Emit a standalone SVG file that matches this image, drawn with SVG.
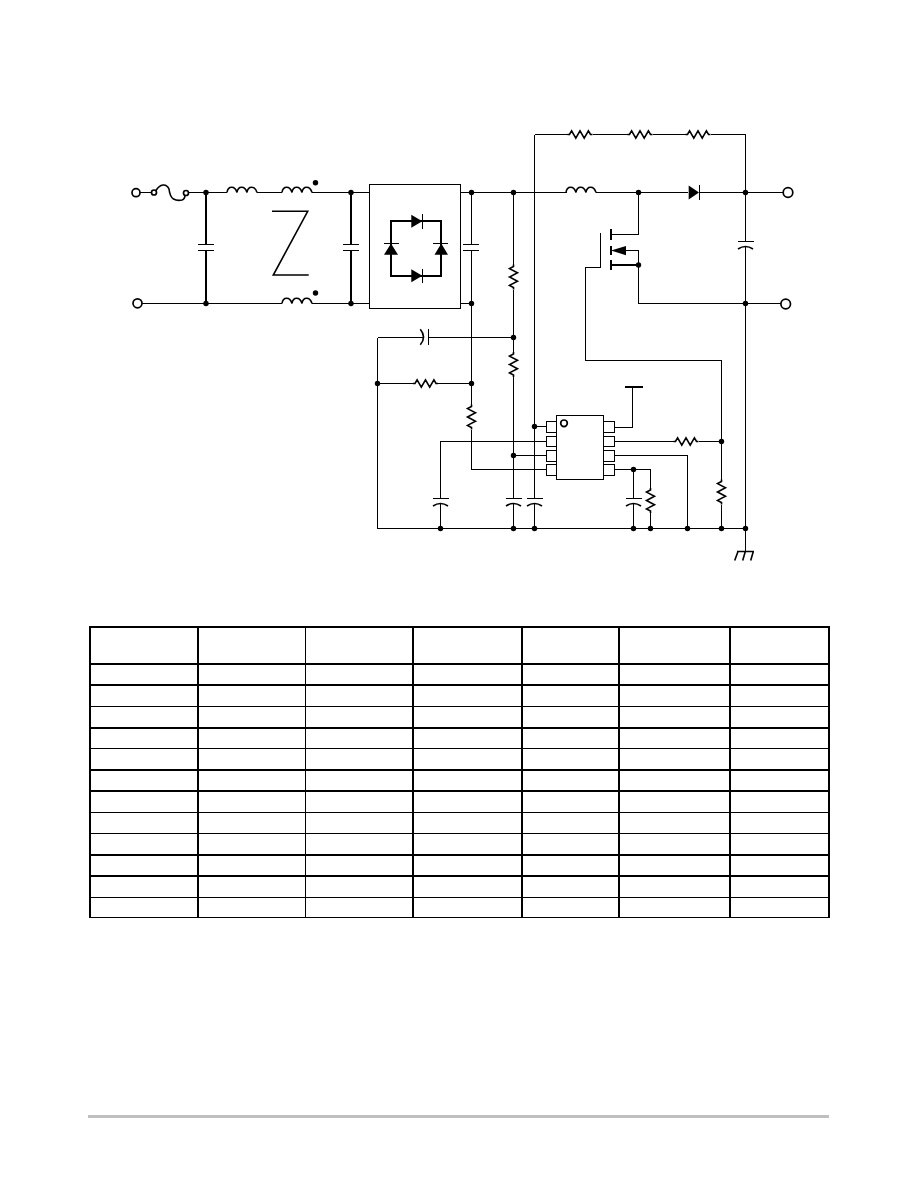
<svg xmlns="http://www.w3.org/2000/svg" width="918" height="1188" viewBox="0 0 918 1188">
<style>
.w{fill:none;stroke:#000;stroke-width:1;shape-rendering:crispEdges}
.b{fill:none;stroke:#000;stroke-width:2;shape-rendering:crispEdges}
.s{fill:none;stroke:#000;stroke-width:1.6}
.n{fill:#000}
.f{fill:#000;stroke:none}
.c{fill:#fff;stroke:#000;stroke-width:1.7}
.k{stroke:#000;stroke-width:2;shape-rendering:crispEdges}
.k1{stroke:#000;stroke-width:1;shape-rendering:crispEdges}
</style>
<defs>
<circle id="dot" r="2.7" class="n"/>
<path id="rh" class="s" d="M0 0h2l2.100 -3.600 4.200 7.200 4.200 -7.200 4.200 7.200 4.200 -7.200 2.100 3.600h2"/>
<path id="rv" class="s" d="M0 0v2l-4 2.100 8 4.200 -8 4.200 8 4.200 -8 4.200 4 2.100v2"/>
<path id="ind" class="s" d="M0 0c1 -7 8 -7 10 0c1 -7 8 -7 10 0c1 -7 8 -7 10 0"/>
<g id="pc"><path class="k1" d="M-8 0h16"/><path class="s" d="M-7.500 7.500q7.500 -5 15 0"/></g>
</defs>
<rect width="918" height="1188" fill="#fff"/>
<g id="connectors">
<path class="w" d="M140 192.500h11M189 192.500h38M257 192.500h25M312 192.500h57M461 192.500h106M596 192.500h92M700 192.500h83"/>
<path class="s" d="M156 190.500q3 -5 7 -5.500t6 4q1 8 4.500 10t8.500 1q3 -1 3 -5"/>
<path class="w" d="M142 303.500h140M312 303.500h57M461 303.500h10"/>
<path class="b" d="M206 192.500V244M206 250V303M351 192.500V244M351 250V303"/>
<path class="w" d="M471.500 192.500V244.500M471.500 250.500V404.500M471.500 430V469.500H546.500M513.500 192.500V264.500M513.500 290V352M513.500 377V498.500M513.500 504V528.500M534.500 134.500V498.500M534.500 504V528.500"/>
<path class="w" d="M534.500 134.500H567.500M592.500 134.500H627.500M652.500 134.500H685.500M710.500 134.500H745.500V241.500M745.500 246V551.500"/>
<path class="w" d="M638.500 192.500V234.500H611M638.500 250.500H626M638.500 250.500V303.500H781M745 192.500H783"/>
<path class="w" d="M600.500 233V267.500H585.500V360.500H721.500V479.500M721.500 505V528.500"/>
<path class="w" d="M377.500 337.500H424M428.500 337.500H513.500M377.500 337.500V528.500H745.500M377.500 383.500H413M438 383.500H471.500"/>
<path class="w" d="M534.500 426.500H546.500M440.500 498.500V441.500H546.500M440.500 504V528.500M513.500 455.500H546.500"/>
<path class="w" d="M614.500 427.500H632.500V387M614.500 441.500H673.500M698.500 441.500H721.500M614.500 455.500H687.500V528.500M614.500 469.500H650.500V488M650.500 513V528.500M633.500 469.500V498.500M633.500 504V528.500"/>
<path class="s" d="M737 551.500H754M738 551.500L734.700 560.500M745.300 551.500L742.700 560.500M753.300 551.500L750.700 560.500"/>
</g>
<g id="terminal-l1"><circle class="c" cx="136" cy="192.700" r="4"/></g>
<g id="terminal-l2"><circle class="c" cx="137.500" cy="303.300" r="4.500"/></g>
<g id="fuse"><circle class="c" cx="154" cy="192.500" r="2.500"/><circle class="c" cx="186" cy="193" r="2.500"/></g>
<g id="c1"><path class="k1" d="M198 244.500h16M198 250.500h16"/></g>
<g id="c2"><path class="k1" d="M343 244.500h16M343 250.500h16"/></g>
<g id="c3"><path class="k1" d="M463 244.500h16M463 250.500h16"/></g>
<g id="l1"><use href="#ind" x="227" y="192.500"/></g>
<g id="cm-top"><use href="#ind" x="282" y="192.500"/><circle class="n" cx="315.500" cy="182.700" r="2.700"/></g>
<g id="cm-bot"><use href="#ind" x="282" y="303.500"/><circle class="n" cx="315.500" cy="293" r="2.700"/></g>
<g id="z"><path fill="none" stroke="#000" stroke-width="1.600" d="M272 211.300H307.700L273.300 275H308.700"/></g>
<g id="bridge">
<rect class="w" x="369.500" y="184.500" width="91" height="124"/>
<rect class="b" x="391" y="221" width="50" height="55"/>
<path class="f" d="M411.300 214.800L422.300 221.300 411.300 227.800ZM411.300 269.200L422.300 275.700 411.300 282.200ZM391 243.500L398 254.700H384ZM441.300 243.500L448 254.700H434.500Z"/>
<path class="k1" d="M422.500 214v14.500M422.500 268.500v14.500M384 243.500h14.600M433 243.500h15"/>
</g>
<g id="l2"><use href="#ind" x="566" y="192.500"/></g>
<g id="r1"><use href="#rh" x="567.500" y="134.500"/></g>
<g id="r2"><use href="#rh" x="627.500" y="134.500"/></g>
<g id="r3"><use href="#rh" x="685.500" y="134.500"/></g>
<g id="d1"><path class="f" d="M688.700 185.500L699 192.500 688.700 199.500Z"/><path class="k1" d="M699.500 185v15"/></g>
<g id="mosfet"><path class="k" d="M611 229v10.500M611 245.700v9.500M611 260v10M611 265H638.500"/><path class="f" d="M611 250.500L626 246V255.200Z"/></g>
<g id="c-out"><use href="#pc" x="745.500" y="241.500"/></g>
<g id="r4"><use href="#rv" x="513.500" y="264.500"/></g>
<g id="r5"><use href="#rv" x="513.500" y="352"/></g>
<g id="r6"><use href="#rh" x="413" y="383.500"/></g>
<g id="r7"><use href="#rv" x="471.500" y="404.500"/></g>
<g id="r8"><use href="#rh" x="673.500" y="441.500"/></g>
<g id="r9"><use href="#rv" x="721.500" y="479.500"/></g>
<g id="r10"><use href="#rv" x="650.500" y="488"/></g>
<g id="c-fb"><path class="s" d="M420.300 329.300q6.500 8 0 15.500"/><path class="k1" d="M428.500 329v16"/></g>
<g id="c4"><use href="#pc" x="440.500" y="498.500"/></g>
<g id="c5"><use href="#pc" x="513.500" y="498.500"/></g>
<g id="c6"><use href="#pc" x="534.500" y="498.500"/></g>
<g id="c7"><use href="#pc" x="633.500" y="498.500"/></g>
<g id="ic">
<rect class="w" x="546.500" y="421.500" width="10" height="11"/><rect class="w" x="546.500" y="436.500" width="10" height="10"/><rect class="w" x="546.500" y="450.500" width="10" height="11"/><rect class="w" x="546.500" y="464.500" width="10" height="11"/>
<rect class="w" x="603.500" y="421.500" width="11" height="11"/><rect class="w" x="603.500" y="436.500" width="11" height="10"/><rect class="w" x="603.500" y="450.500" width="11" height="11"/><rect class="w" x="603.500" y="464.500" width="11" height="11"/>
<rect x="556.500" y="415.500" width="47" height="64" fill="#fff" stroke="#000" stroke-width="1" shape-rendering="crispEdges"/>
<circle cx="564" cy="423.300" r="3.300" fill="none" stroke="#000" stroke-width="1.700"/>
</g>
<g id="vcc-bar"><path class="k" d="M625 387H642.700"/></g>
<g id="terminal-out1"><circle class="c" cx="788" cy="192.500" r="4.800"/></g>
<g id="terminal-out2"><circle class="c" cx="785.700" cy="304" r="4.800"/></g>
<g id="junctions">
<use href="#dot" x="206" y="192.500"/><use href="#dot" x="206" y="303.500"/><use href="#dot" x="351" y="192.500"/><use href="#dot" x="351" y="303.500"/><use href="#dot" x="471.500" y="192.500"/><use href="#dot" x="471.500" y="303.500"/><use href="#dot" x="513.500" y="192.500"/><use href="#dot" x="638.500" y="192.500"/><use href="#dot" x="745.500" y="192.500"/><use href="#dot" x="638.500" y="265"/><use href="#dot" x="745.500" y="303.500"/><use href="#dot" x="513.500" y="337.500"/><use href="#dot" x="377.500" y="383.500"/><use href="#dot" x="471.500" y="383.500"/><use href="#dot" x="534.500" y="426.500"/><use href="#dot" x="513.500" y="455.500"/><use href="#dot" x="633.500" y="469.500"/><use href="#dot" x="721.500" y="441.500"/><use href="#dot" x="440.500" y="528.500"/><use href="#dot" x="513.500" y="528.500"/><use href="#dot" x="534.500" y="528.500"/><use href="#dot" x="633.500" y="528.500"/><use href="#dot" x="650.500" y="528.500"/><use href="#dot" x="687.500" y="528.500"/><use href="#dot" x="721.500" y="528.500"/><use href="#dot" x="745.500" y="528.500"/>
</g>
<g id="table" stroke="#000" fill="none" shape-rendering="crispEdges">
<path stroke-width="2" d="M89 627H830M89 664H830M89 685H830M89 728H830M89 770H830M89 791H830M89 855H830M89 876H830"/>
<path stroke-width="1" d="M89 706.500H830M89 748.500H830M89 812.500H830M89 833.500H830M89 897.500H830M89 917.500H830"/>
<path stroke-width="2" d="M90 626V918M198 626V918M413 626V918M522 626V918M619 626V918M730 626V918M829 626V918"/>
<path stroke-width="1" d="M305.500 626V918"/>
</g>
<path id="footer-rule" d="M88 1116.500H828.500" stroke="#bfbfbf" stroke-width="3" fill="none" shape-rendering="crispEdges"/>
</svg>
